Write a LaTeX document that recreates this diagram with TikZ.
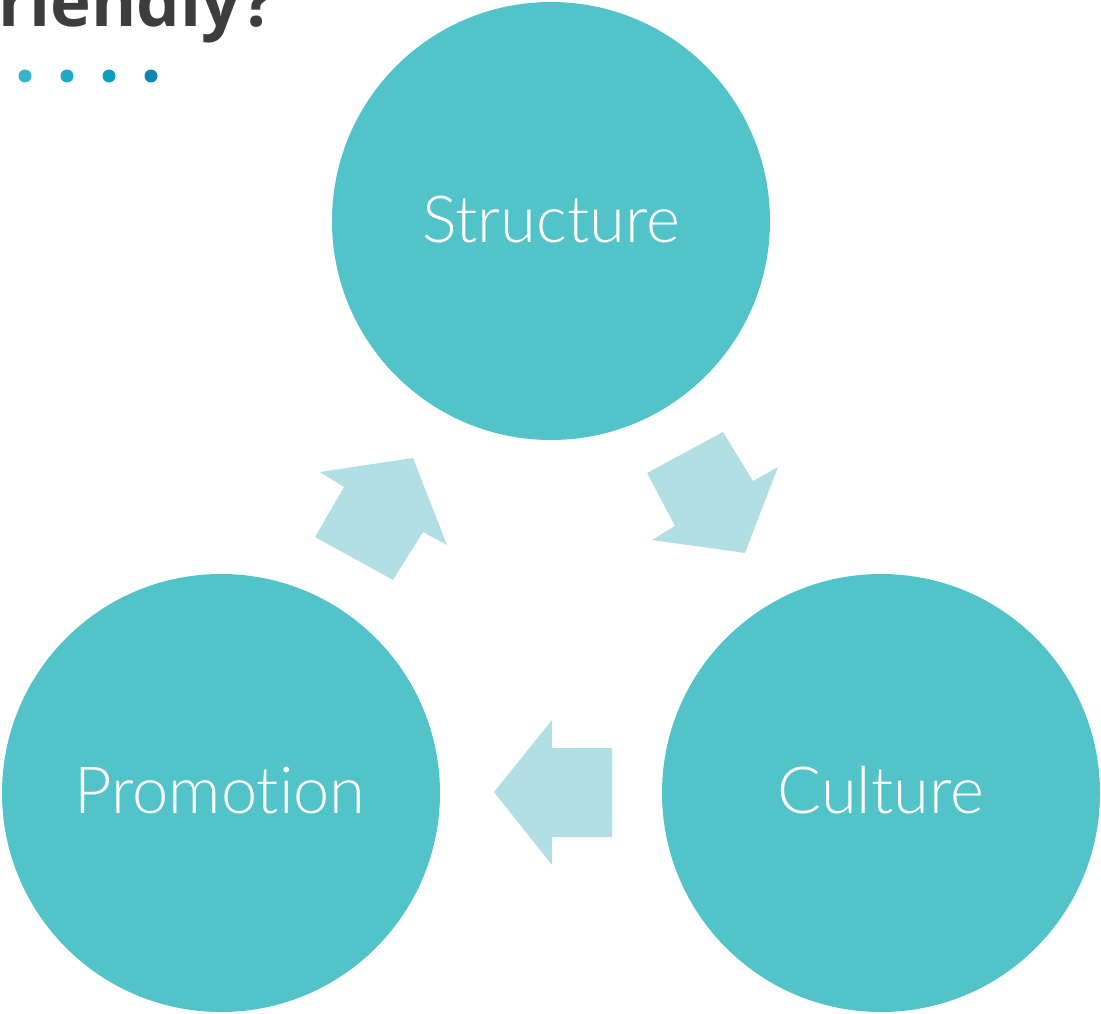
\documentclass[tikz,border=0pt]{standalone}
\usepackage{fontspec}
\newfontfamily\latolight{Lato Light}[Ligatures=NoCommon]
\newfontfamily\titlefont{Open Sans}[BoldFont=* Bold]
\definecolor{teal}{HTML}{53C3CA}
\definecolor{arrowc}{HTML}{B2DFE3}
\definecolor{titlec}{HTML}{3D3D3D}
\definecolor{dotA}{HTML}{38B5CE}
\definecolor{dotB}{HTML}{20A9C9}
\definecolor{dotC}{HTML}{0F9CC3}
\definecolor{dotD}{HTML}{0A87B3}
\tikzset{
  bigcircle/.style={circle, fill=teal, draw=none, minimum size=438pt, inner sep=0pt},
  circlelabel/.style={text=white, font=\latolight\fontsize{65}{78}\selectfont, anchor=base, inner sep=0pt},
  flowarrow/.style={fill=arrowc, draw=none},
  titledot/.style={circle, fill=#1, minimum size=13pt, inner sep=0pt, draw=none}
}
\begin{document}
\begin{tikzpicture}[x=1pt,y=-1pt]
\useasboundingbox (0,0) rectangle (1101,1014);
\begin{scope}
\clip (0,0) rectangle (1101,1014);
\node[anchor=base west, inner sep=0pt, text=titlec, font=\titlefont\bfseries\fontsize{69}{72}\selectfont] (title) at (-2,27) {riendly?};
\end{scope}
\node[titledot=dotA] (d1) at (25,76) {};
\node[titledot=dotB] (d2) at (67,76) {};
\node[titledot=dotC] (d3) at (109,76) {};
\node[titledot=dotD] (d4) at (151,76) {};
% circles
\node[bigcircle] (structure) at (551,221) {};
\node[bigcircle] (promotion) at (221,793) {};
\node[bigcircle] (culture) at (881,793) {};
\node[circlelabel] (structureT) at (551,242) {Structure};
\node[circlelabel] (promotionT) at (220,813) {Promotion};
\node[circlelabel] (cultureT) at (881,813) {Culture};
% arrows
\fill[flowarrow] (413,458) -- (320,472) -- (344,487) -- (315,537) -- (393,580) -- (423,532) -- (447,545) -- cycle;
\fill[flowarrow] (647,473) -- (723,432) -- (753,481) -- (778,467) -- (745,553) -- (652,540) -- (675,526) -- cycle;
\fill[flowarrow] (494,792) -- (552,720) -- (552,748) -- (612,748) -- (612,837) -- (552,837) -- (552,865) -- cycle;
\end{tikzpicture}
\end{document}
